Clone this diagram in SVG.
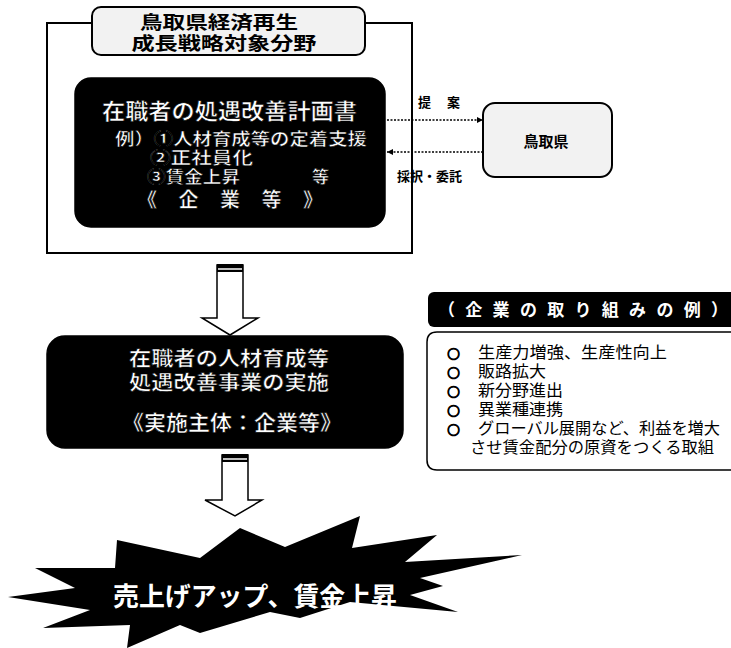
<svg xmlns="http://www.w3.org/2000/svg" width="731" height="648" viewBox="0 0 731 648">
<defs>
<style>
.jp{font-family:"Liberation Sans","Noto Sans CJK JP","Noto Sans CJK SC",sans-serif}
.wt{fill:#fff;font-weight:bold;stroke:#000;stroke-width:0.6}
.bk{fill:#000;font-weight:bold}
.it{fill:#000;font-size:16px}
.bul{font-family:"DejaVu Sans",sans-serif;font-size:15px;fill:#000;stroke:#000;stroke-width:0.9}
.dark{fill:#000;stroke:#000;stroke-width:1.5}
.light{fill:#f2f2f2;stroke:#000;stroke-width:2}
.conn{stroke:#000;stroke-width:1.6;stroke-dasharray:2 1.5;fill:none}
.big{fill:#fff;stroke:#000;stroke-width:1.5}
</style>
<marker id="ah" viewBox="0 0 10 10" refX="10" refY="5" markerWidth="6" markerHeight="6" orient="auto-start-reverse" markerUnits="userSpaceOnUse">
<path d="M0,0 L10,5 L0,10 z" fill="#000"/>
</marker>
</defs>
<rect width="731" height="648" fill="#fff"/>

<g id="frame">
<rect x="47" y="23" width="365" height="230" fill="none" stroke="#000" stroke-width="2"/>
</g>

<g id="label-field">
<rect x="92" y="7" width="273" height="48" rx="9" class="light"/>
<text x="219" y="29" class="jp bk" font-size="18" text-anchor="middle" textLength="158" lengthAdjust="spacingAndGlyphs">鳥取県経済再生</text>
<text x="224" y="50" class="jp bk" font-size="18" text-anchor="middle" textLength="185" lengthAdjust="spacingAndGlyphs">成長戦略対象分野</text>
</g>

<g id="plan">
<rect x="75" y="78" width="310" height="149" rx="16" class="dark"/>
<text x="102" y="119" class="jp wt" font-size="22" textLength="255" lengthAdjust="spacingAndGlyphs">在職者の処遇改善計画書</text>
<text x="115" y="145" class="jp wt" font-size="17" textLength="252" lengthAdjust="spacingAndGlyphs">例）①人材育成等の定着支援</text>
<text x="150" y="164" class="jp wt" font-size="17" textLength="103" lengthAdjust="spacingAndGlyphs">②正社員化</text>
<text x="147" y="183" class="jp wt" font-size="17" textLength="93" lengthAdjust="spacingAndGlyphs">③賃金上昇</text>
<text x="312" y="183" class="jp wt" font-size="17">等</text>
<text x="137" y="207" class="jp wt" font-size="20" textLength="186" lengthAdjust="spacing">《　企　業　等　》</text>
</g>

<g id="tottori">
<rect x="483" y="103" width="129" height="74" rx="12" class="light"/>
<text x="546" y="147" class="jp bk" font-size="15" text-anchor="middle">鳥取県</text>
</g>

<g id="implement">
<rect x="47" y="336" width="356" height="112" rx="18" class="dark"/>
<text x="229" y="366" class="jp wt" font-size="20" text-anchor="middle" textLength="200" lengthAdjust="spacingAndGlyphs">在職者の人材育成等</text>
<text x="229" y="390" class="jp wt" font-size="20" text-anchor="middle" textLength="200" lengthAdjust="spacingAndGlyphs">処遇改善事業の実施</text>
<text x="232" y="430" class="jp wt" font-size="21" text-anchor="middle" textLength="220" lengthAdjust="spacingAndGlyphs">《実施主体：企業等》</text>
</g>

<g id="examples">
<rect x="428" y="292" width="310" height="35" rx="6" fill="#000"/>
<text x="438" y="316" class="jp" fill="#fff" font-weight="bold" font-size="17" textLength="290" lengthAdjust="spacing">（企業の取り組みの例）</text>
<path d="M740,332 H437 Q427,332 427,342 V460 Q427,470 437,470 H740" fill="none" stroke="#000" stroke-width="1.5"/>
<g class="jp it">
<text x="447" y="358" class="bul">○</text><text x="478" y="358" textLength="189" lengthAdjust="spacingAndGlyphs">生産力増強、生産性向上</text>
<text x="447" y="377" class="bul">○</text><text x="478" y="377" textLength="68" lengthAdjust="spacingAndGlyphs">販路拡大</text>
<text x="447" y="396" class="bul">○</text><text x="478" y="396" textLength="85" lengthAdjust="spacingAndGlyphs">新分野進出</text>
<text x="447" y="415" class="bul">○</text><text x="478" y="415" textLength="85" lengthAdjust="spacingAndGlyphs">異業種連携</text>
<text x="447" y="434" class="bul">○</text><text x="478" y="434" textLength="242" lengthAdjust="spacingAndGlyphs">グローバル展開など、利益を増大</text>
<text x="470" y="453" textLength="244" lengthAdjust="spacingAndGlyphs">させ賃金配分の原資をつくる取組</text>
</g>
</g>

<g id="result">
<polygon points="8,597 75,588 35,568 115,568 117,540 200,558 240,528 285,547 360,516 352,548 437,535 405,562 522,555 420,578 443,586 410,595 458,612 350,602 300,618 270,612 200,633 180,625 127,648 130,625 43,628 90,610" fill="#000"/>
<text x="113" y="606" class="jp" fill="#fff" font-size="26" font-weight="bold" textLength="284" lengthAdjust="spacingAndGlyphs">売上げアップ、賃金上昇</text>
</g>

<g id="connectors">
<line x1="387" y1="120" x2="483" y2="120" class="conn" marker-end="url(#ah)"/>
<line x1="483" y1="152" x2="387" y2="152" class="conn" marker-end="url(#ah)"/>
<text x="418" y="107" class="jp bk" font-size="13" textLength="42" lengthAdjust="spacing">提案</text>
<text x="397" y="181" class="jp bk" font-size="13">採択・委託</text>
<path d="M217,265 H243 V318 H258 L230,335 L202,318 H217 Z" class="big"/>
<rect x="217" y="264" width="26" height="8" fill="#000"/>
<line x1="218" y1="269" x2="242" y2="269" stroke="#fff" stroke-width="1.5"/>
<path d="M222,455 H248 V500 H262 L235,516 L205,500 H222 Z" class="big"/>
<rect x="222" y="454" width="26" height="8" fill="#000"/>
<line x1="223" y1="459" x2="247" y2="459" stroke="#fff" stroke-width="1.5"/>
</g>
</svg>
